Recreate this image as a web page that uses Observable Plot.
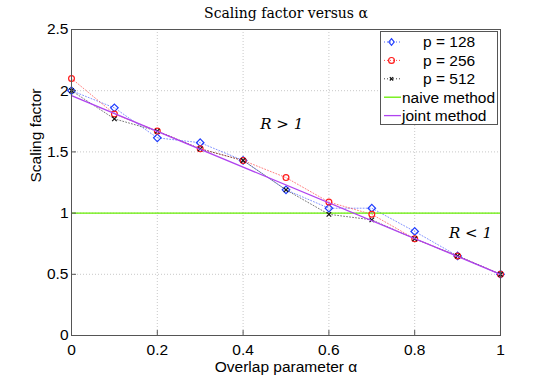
<!DOCTYPE html>
<html><head><meta charset="utf-8">
<script src="https://cdn.jsdelivr.net/npm/d3@7"></script>
<script src="https://cdn.jsdelivr.net/npm/@observablehq/plot@0.6"></script>
<style>
body{margin:0;background:#fff;}
#wrap{position:relative;width:552px;height:377px;}
#legend{position:absolute;left:380px;top:31px;}
</style></head><body><div id="wrap"></div>
<script>
// ---- data ----
const alpha = [0, 0.1, 0.2, 0.3, 0.4, 0.5, 0.6, 0.7, 0.8, 0.9, 1.0];
const p128 = [2.00, 1.86, 1.615, 1.575, 1.43, 1.19, 1.04, 1.04, 0.85, 0.65, 0.50];
const p256 = [2.10, 1.81, 1.67, 1.525, 1.43, 1.29, 1.09, 0.99, 0.79, 0.65, 0.50];
const p512 = [2.00, 1.77, 1.67, 1.525, 1.43, 1.19, 0.99, 0.945, 0.79, 0.65, 0.50];
const lineAlpha = [0, 1];
const naive = [1, 1];
const joint = [1.96, 0.5];
const xTicks = [0, 0.2, 0.4, 0.6, 0.8, 1];
const yTicks = [0, 0.5, 1, 1.5, 2, 2.5];
const xTickLabels = ["0", "0.2", "0.4", "0.6", "0.8", "1"];
const yTickLabels = ["0", "0.5", "1", "1.5", "2", "2.5"];
const titleText = "Scaling factor versus α";
const xLabel = "Overlap parameter α";
const yLabel = "Scaling factor";
const annotations = [{x: 0.49, y: 1.73, t: "R > 1"}, {x: 0.93, y: 0.835, t: "R < 1"}];
const legendLabels = ["p = 128", "p = 256", "p = 512", "naive method", "joint method"];

const C128 = "#1f3cff", C256 = "#ff1a1a", C512 = "#111111", CN = "#66ee00", CJ = "#b043f0";
const sans = '"Liberation Sans", Arial, sans-serif';
const serif = '"DejaVu Serif", "Liberation Serif", serif';
const FS = 15.5;

const mk = ys => alpha.map((a, i) => ({a, v: ys[i]}));
const s128 = mk(p128), s256 = mk(p256), s512 = mk(p512);
const naiveD = lineAlpha.map((a, i) => ({a, v: naive[i]}));
const jointD = lineAlpha.map((a, i) => ({a, v: joint[i]}));

const chart = Plot.plot({
  width: 552, height: 377,
  marginLeft: 71, marginRight: 52, marginTop: 29, marginBottom: 42,
  style: {fontFamily: sans, fontSize: FS + "px", background: "#fff", color: "#000"},
  x: {domain: [0, 1]},
  y: {domain: [0, 2.5]},
  marks: [
    Plot.gridX(xTicks, {stroke: "#c8c8c8", strokeOpacity: 1, strokeDasharray: "1,2"}),
    Plot.gridY(yTicks, {stroke: "#c8c8c8", strokeOpacity: 1, strokeDasharray: "1,2"}),
    Plot.line(s128, {x: "a", y: "v", stroke: C128, strokeWidth: 0.7, strokeOpacity: 0.8, strokeDasharray: "1,2"}),
    Plot.line(s256, {x: "a", y: "v", stroke: C256, strokeWidth: 0.7, strokeOpacity: 0.8, strokeDasharray: "1,2"}),
    Plot.line(s512, {x: "a", y: "v", stroke: C512, strokeWidth: 0.7, strokeOpacity: 0.8, strokeDasharray: "1,2"}),
    Plot.line(naiveD, {x: "a", y: "v", stroke: CN, strokeWidth: 1.3}),
    Plot.dot(s128, {x: "a", y: "v", symbol: "diamond2", r: 3.4, stroke: C128, strokeWidth: 1.2, fill: "none"}),
    Plot.dot(s256, {x: "a", y: "v", symbol: "circle", r: 2.9, stroke: C256, strokeWidth: 1.2, fill: "none"}),
    Plot.dot(s512, {x: "a", y: "v", symbol: "times", r: 2.2, stroke: C512, strokeWidth: 1.2, fill: "none"}),
    Plot.line(jointD, {x: "a", y: "v", stroke: CJ, strokeWidth: 1.3}),
    Plot.text(annotations, {x: "x", y: "y", text: "t", fontFamily: serif, fontStyle: "italic", fontSize: 15, fill: "#000"}),
    Plot.frame({stroke: "#555", strokeWidth: 1}),
    Plot.axisX(xTicks, {tickSize: -5, tickPadding: 13, tickFormat: (d, i) => xTickLabels[i], stroke: "#555", label: null, fontSize: FS}),
    Plot.axisY(yTicks, {tickSize: -5, tickPadding: 8, tickFormat: (d, i) => yTickLabels[i], stroke: "#555", label: null, fontSize: FS}),
    Plot.text([titleText], {frameAnchor: "top", dy: -12, lineAnchor: "bottom", fontFamily: serif, fontSize: 14, fill: "#000"}),
    Plot.text([xLabel], {frameAnchor: "bottom", dy: 32, lineAnchor: "middle", fontSize: FS, fill: "#000"}),
    Plot.text([yLabel], {frameAnchor: "left", dx: -35, rotate: -90, fontSize: FS, fill: "#000"})
  ]
});
const wrap = document.getElementById("wrap");
wrap.appendChild(chart);

// legend overlay
const leg = d3.select(wrap).append("svg").attr("id", "legend").attr("width", 119).attr("height", 95);
leg.append("rect").attr("x", 0.5).attr("y", 0.5).attr("width", 117).attr("height", 93)
  .attr("fill", "#fff").attr("stroke", "#555");
const styles = [
  {c: C128, dash: "1,2", sym: "diamond"},
  {c: C256, dash: "1,2", sym: "circle"},
  {c: C512, dash: "1,2", sym: "times"},
  {c: CN, dash: null, sym: null},
  {c: CJ, dash: null, sym: null}
];
legendLabels.forEach((lab, i) => {
  const y = 11 + i * 18.4;
  const s = styles[i];
  const g = leg.append("g");
  g.append("line").attr("x1", 4).attr("x2", 21).attr("y1", y).attr("y2", y)
    .attr("stroke", s.c).attr("stroke-width", s.dash ? 0.8 : 1.3).attr("stroke-dasharray", s.dash);
  if (s.sym === "diamond") g.append("path").attr("d", `M11.5,${y-3.4}L14.2,${y}L11.5,${y+3.4}L8.8,${y}Z`).attr("fill", "none").attr("stroke", s.c).attr("stroke-width", 1.2);
  if (s.sym === "circle") g.append("circle").attr("cx", 11.5).attr("cy", y).attr("r", 2.9).attr("fill", "none").attr("stroke", s.c).attr("stroke-width", 1.2);
  if (s.sym === "times") g.append("path").attr("d", `M9.8,${y-1.7}L13.2,${y+1.7}M9.8,${y+1.7}L13.2,${y-1.7}`).attr("stroke", s.c).attr("stroke-width", 1.2);
  g.append("text").attr("x", s.sym ? 43 : 22).attr("y", y).attr("dy", "0.35em")
    .attr("font-family", sans).attr("font-size", FS).attr("fill", "#000").text(lab);
});
</script></body></html>
